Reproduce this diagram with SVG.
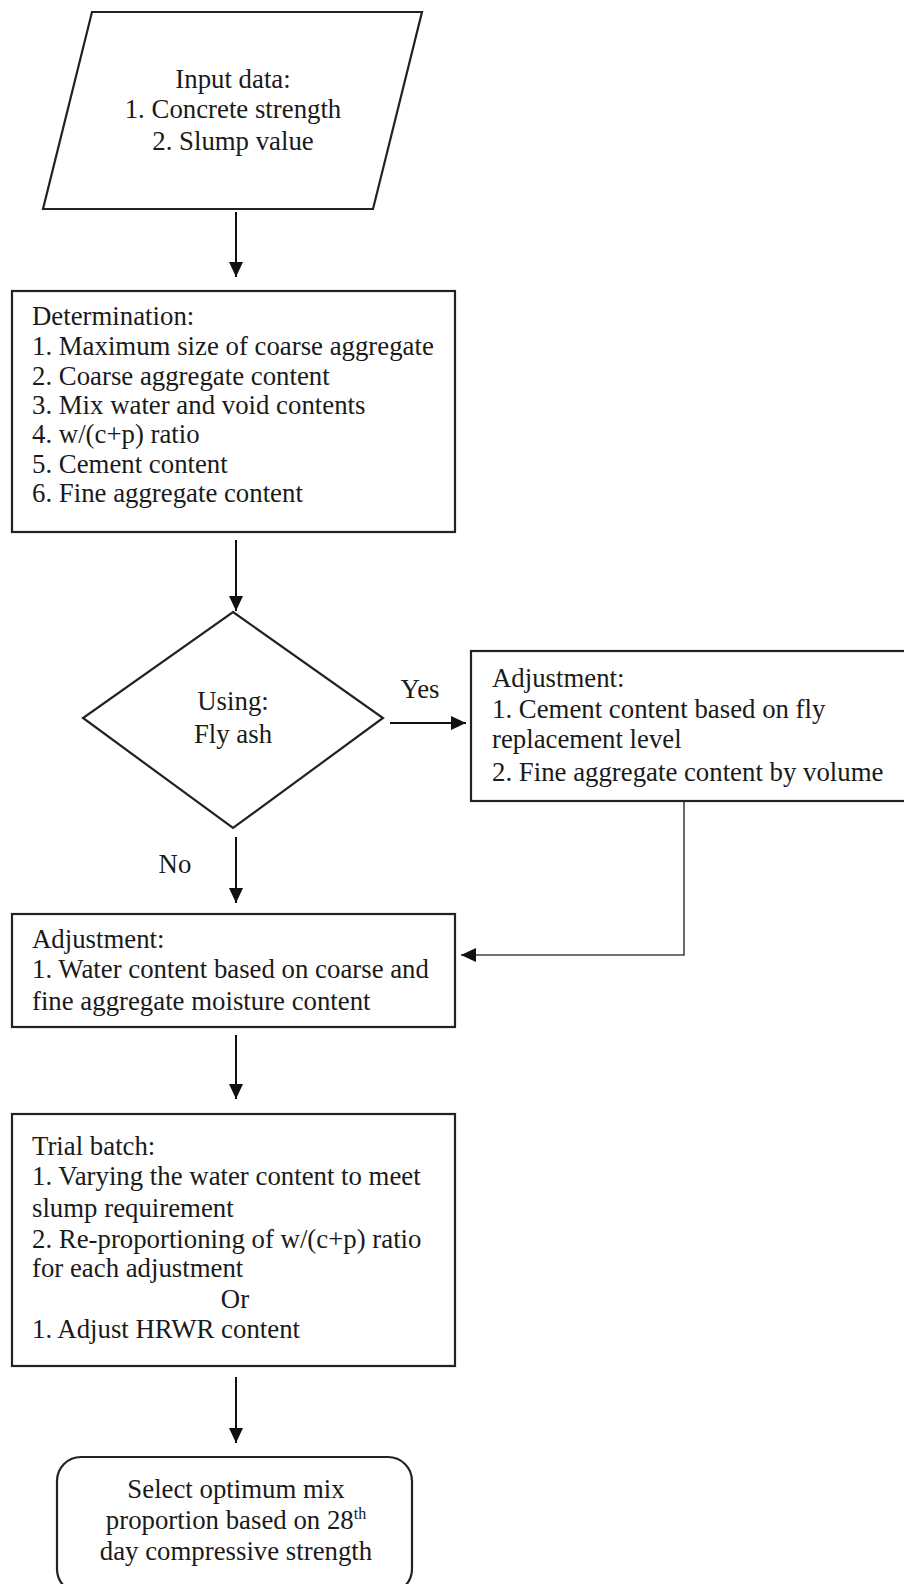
<svg xmlns="http://www.w3.org/2000/svg" width="904" height="1584" viewBox="0 0 904 1584">
<defs>
<style>
.shape{fill:#fff;stroke:#222;stroke-width:2.2}
.t{font-family:"Liberation Serif","Times New Roman",serif;font-size:26.8px;fill:#1a1a1a}
.c{text-anchor:middle}
.conn{fill:none;stroke:#111;stroke-width:2}
.thin{stroke:#444;stroke-width:1.6}
</style>
<marker id="ah" markerUnits="userSpaceOnUse" markerWidth="15" markerHeight="14" refX="15" refY="7" orient="auto">
<path d="M0,0 L15,7 L0,14 Z" fill="#111"/>
</marker>
</defs>
<rect width="904" height="1584" fill="#fff"/>
<g id="connectors">
<path class="conn" d="M236,212 V277" marker-end="url(#ah)"/>
<path class="conn" d="M236,540 V611" marker-end="url(#ah)"/>
<path class="conn" d="M390,723 H466" marker-end="url(#ah)"/>
<path class="conn" d="M236,837 V903" marker-end="url(#ah)"/>
<path class="conn thin" d="M684,801 V955 H461" marker-end="url(#ah)"/>
<path class="conn" d="M236,1035 V1099" marker-end="url(#ah)"/>
<path class="conn" d="M236,1377 V1443" marker-end="url(#ah)"/>
<text class="t c" x="420" y="698">Yes</text>
<text class="t c" x="175" y="873">No</text>
</g>
<g id="input">
<polygon class="shape" points="92,12 422,12 373,209 43,209"/>
<text class="t c" x="233" y="88">Input data:</text>
<text class="t c" x="233" y="118">1. Concrete strength</text>
<text class="t c" x="233" y="150">2. Slump value</text>
</g>
<g id="determination">
<rect class="shape" x="12" y="291" width="443" height="241"/>
<text class="t" x="32" y="325">Determination:</text>
<text class="t" x="32" y="355">1. Maximum size of coarse aggregate</text>
<text class="t" x="32" y="385">2. Coarse aggregate content</text>
<text class="t" x="32" y="414">3. Mix water and void contents</text>
<text class="t" x="32" y="443">4. w/(c+p) ratio</text>
<text class="t" x="32" y="473">5. Cement content</text>
<text class="t" x="32" y="502">6. Fine aggregate content</text>
</g>
<g id="decision">
<polygon class="shape" points="233,612 383,718 233,828 83,718"/>
<text class="t c" x="233" y="710">Using:</text>
<text class="t c" x="233" y="743">Fly ash</text>
</g>
<g id="flyash-adjustment">
<rect class="shape" x="471" y="651" width="440" height="150"/>
<text class="t" x="492" y="687">Adjustment:</text>
<text class="t" x="492" y="718">1. Cement content based on fly</text>
<text class="t" x="492" y="748">replacement level</text>
<text class="t" x="492" y="781">2. Fine aggregate content by volume</text>
</g>
<g id="water-adjustment">
<rect class="shape" x="12" y="914" width="443" height="113"/>
<text class="t" x="32" y="948">Adjustment:</text>
<text class="t" x="32" y="978">1. Water content based on coarse and</text>
<text class="t" x="32" y="1010">fine aggregate moisture content</text>
</g>
<g id="trial-batch">
<rect class="shape" x="12" y="1114" width="443" height="252"/>
<text class="t" x="32" y="1155">Trial batch:</text>
<text class="t" x="32" y="1185">1. Varying the water content to meet</text>
<text class="t" x="32" y="1217">slump requirement</text>
<text class="t" x="32" y="1248">2. Re-proportioning of w/(c+p) ratio</text>
<text class="t" x="32" y="1277">for each adjustment</text>
<text class="t c" x="235" y="1308">Or</text>
<text class="t" x="32" y="1338">1. Adjust HRWR content</text>
</g>
<g id="select-optimum">
<rect class="shape" x="57" y="1457" width="355" height="136" rx="24" ry="24"/>
<text class="t c" x="236" y="1498">Select optimum mix</text>
<text class="t c" x="236" y="1529">proportion based on 28<tspan font-size="16" dy="-10">th</tspan></text>
<text class="t c" x="236" y="1560">day compressive strength</text>
</g>
</svg>
